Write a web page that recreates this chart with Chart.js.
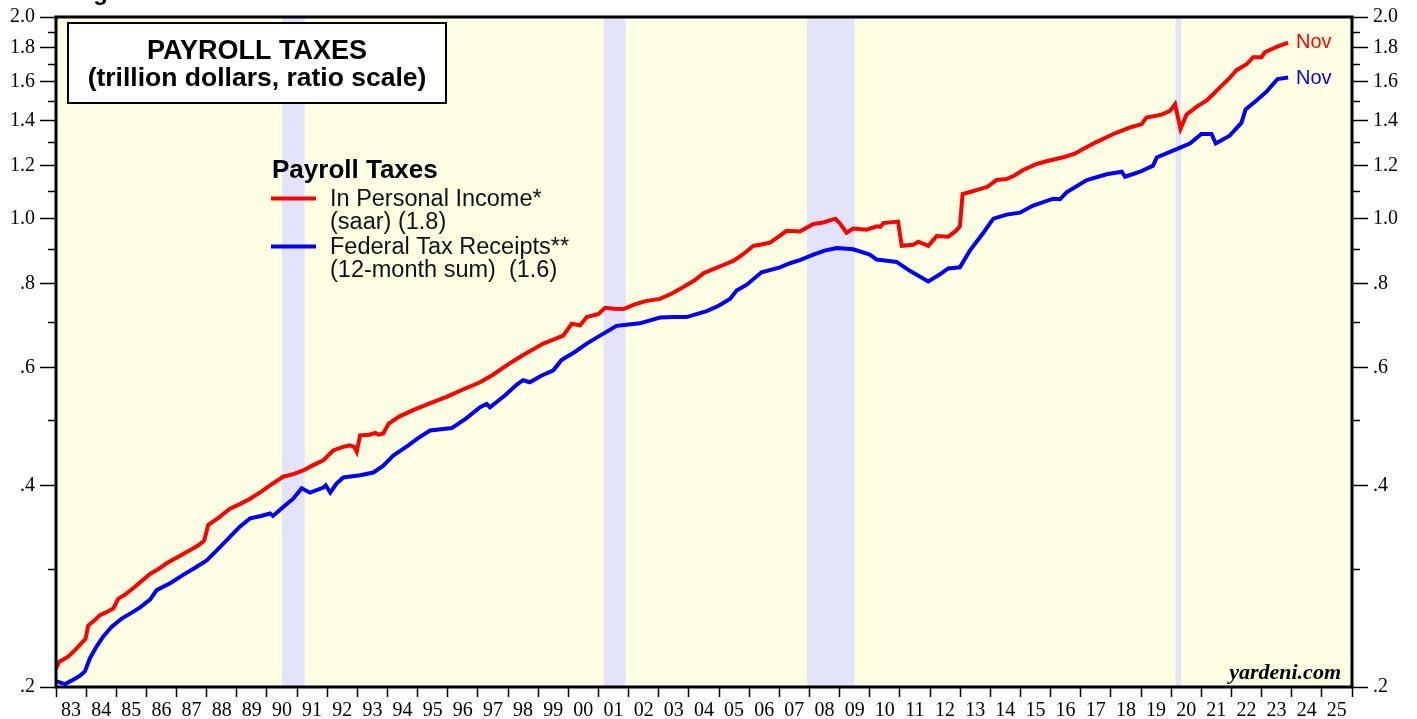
<!DOCTYPE html>
<html>
<head>
<meta charset="utf-8">
<script src="https://cdn.jsdelivr.net/npm/chart.js@4.4.0/dist/chart.umd.min.js"></script>
<style>
  html, body { margin: 0; padding: 0; background: #ffffff; }
  #wrap { position: relative; width: 1417px; height: 719px; }
</style>
</head>
<body>
<div id="wrap"><canvas id="c" width="1417" height="719"></canvas></div>
<script>
// ---------------- DATA ----------------
const incomeYears = [1983.0,1983.1,1983.4,1983.63,1983.9,1983.98,1984.07,1984.3,1984.46,1984.7,1984.9,1985.07,1985.3,1985.57,1985.85,1986.12,1986.4,1986.67,1986.95,1987.22,1987.5,1987.75,1987.92,1988.05,1988.4,1988.77,1989.1,1989.44,1989.8,1990.1,1990.54,1990.9,1991.2,1991.5,1991.87,1992.2,1992.5,1992.75,1992.9,1992.98,1993.09,1993.4,1993.6,1993.7,1993.86,1994.03,1994.4,1994.85,1995.4,1995.96,1996.5,1997.07,1997.5,1997.95,1998.5,1999.17,1999.5,1999.83,2000.11,2000.39,2000.61,2001.0,2001.22,2001.5,2001.83,2002.2,2002.6,2003.04,2003.4,2003.7,2004.2,2004.5,2004.81,2005.2,2005.47,2005.8,2006.14,2006.4,2006.69,2007.0,2007.24,2007.68,2008.13,2008.46,2008.85,2009.0,2009.23,2009.45,2009.9,2010.23,2010.35,2010.45,2010.94,2011.06,2011.44,2011.61,2011.94,2012.22,2012.6,2012.85,2012.99,2013.08,2013.3,2013.65,2013.9,2014.2,2014.54,2014.8,2015.09,2015.5,2015.86,2016.42,2016.8,2017.08,2017.5,2018.08,2018.63,2019.02,2019.18,2019.68,2019.96,2020.13,2020.31,2020.51,2020.85,2021.18,2021.4,2021.62,2021.9,2022.17,2022.5,2022.72,2023.0,2023.11,2023.5,2023.88];
const incomeValues = [0.213,0.218,0.222,0.227,0.234,0.236,0.247,0.252,0.256,0.259,0.262,0.271,0.275,0.281,0.288,0.295,0.300,0.306,0.311,0.316,0.321,0.326,0.331,0.349,0.358,0.369,0.375,0.382,0.391,0.400,0.412,0.416,0.421,0.428,0.436,0.451,0.456,0.459,0.456,0.449,0.475,0.476,0.479,0.476,0.478,0.494,0.507,0.518,0.530,0.542,0.556,0.570,0.585,0.604,0.626,0.651,0.660,0.669,0.697,0.693,0.713,0.721,0.736,0.734,0.733,0.745,0.754,0.759,0.772,0.785,0.810,0.830,0.841,0.855,0.865,0.885,0.911,0.915,0.921,0.942,0.959,0.957,0.982,0.987,1.000,0.985,0.953,0.967,0.963,0.974,0.972,0.985,0.990,0.911,0.914,0.924,0.911,0.942,0.940,0.958,0.974,1.088,1.095,1.107,1.115,1.142,1.146,1.160,1.182,1.205,1.218,1.235,1.250,1.271,1.300,1.338,1.368,1.384,1.416,1.430,1.448,1.482,1.361,1.430,1.470,1.502,1.535,1.570,1.615,1.666,1.700,1.742,1.742,1.772,1.805,1.831];

const receiptsYears = [1983.0,1983.3,1983.57,1983.8,1983.96,1984.13,1984.35,1984.57,1984.85,1985.18,1985.5,1985.79,1986.12,1986.34,1986.8,1987.22,1987.6,1988.0,1988.4,1988.77,1989.1,1989.44,1989.8,1990.1,1990.2,1990.5,1990.87,1991.15,1991.43,1991.87,1991.95,1992.1,1992.3,1992.53,1993.09,1993.53,1993.86,1994.19,1994.69,1995.0,1995.41,1996.13,1996.6,1997.07,1997.29,1997.4,1997.9,1998.3,1998.5,1998.72,1999.1,1999.5,1999.77,2000.2,2000.61,2001.05,2001.6,2002.0,2002.37,2003.04,2003.5,2003.92,2004.59,2005.0,2005.36,2005.58,2005.92,2006.41,2007.02,2007.35,2007.7,2008.13,2008.5,2008.9,2009.45,2010.0,2010.23,2010.5,2010.89,2011.33,2011.7,2011.94,2012.33,2012.6,2012.99,2013.32,2013.77,2014.1,2014.54,2014.98,2015.42,2016.09,2016.31,2016.53,2017.2,2017.86,2018.36,2018.47,2018.97,2019.4,2019.52,2020.18,2020.62,2021.0,2021.34,2021.48,2021.94,2022.33,2022.47,2022.82,2023.15,2023.53,2023.88];
const receiptsValues = [0.204,0.202,0.205,0.208,0.211,0.221,0.230,0.238,0.246,0.253,0.258,0.263,0.270,0.279,0.286,0.294,0.301,0.309,0.322,0.335,0.347,0.357,0.360,0.363,0.360,0.370,0.382,0.396,0.390,0.397,0.400,0.390,0.402,0.411,0.414,0.418,0.428,0.443,0.459,0.470,0.483,0.487,0.503,0.523,0.529,0.523,0.545,0.566,0.574,0.570,0.583,0.594,0.615,0.632,0.651,0.669,0.692,0.695,0.698,0.712,0.713,0.713,0.728,0.742,0.759,0.781,0.797,0.832,0.846,0.858,0.868,0.884,0.896,0.904,0.900,0.884,0.869,0.866,0.862,0.836,0.818,0.806,0.826,0.843,0.846,0.896,0.953,1.000,1.014,1.021,1.046,1.071,1.069,1.095,1.142,1.165,1.175,1.155,1.175,1.200,1.234,1.270,1.295,1.338,1.338,1.295,1.330,1.390,1.456,1.500,1.545,1.616,1.625];

const recessionStarts = [1990.5, 2001.17, 2007.92, 2020.15];
const recessionEnds   = [1991.25, 2001.9, 2009.5, 2020.33];

const yLabelValues = [0.2, 0.4, 0.6, 0.8, 1.0, 1.2, 1.4, 1.6, 1.8, 2.0];
const yLabelTexts  = ['.2', '.4', '.6', '.8', '1.0', '1.2', '1.4', '1.6', '1.8', '2.0'];
const yMinorValues = [0.3, 0.5, 0.7, 0.9, 1.1, 1.3, 1.5, 1.7, 1.9];
const yearLabels = ['83','84','85','86','87','88','89','90','91','92','93','94','95','96','97','98','99','00','01','02','03','04','05','06','07','08','09','10','11','12','13','14','15','16','17','18','19','20','21','22','23','24','25'];
const firstYear = 1983;
const lastYear = 2026;

// ---------------- HELPERS ----------------
const SANS = '"Liberation Sans", Arial, sans-serif';
const SERIF = '"Liberation Serif", "Times New Roman", serif';
const toPoints = (xs, ys) => xs.map((x, i) => ({ x: x, y: ys[i] }));

function yTickCallback(value) {
  const idx = yLabelValues.findIndex(v => Math.abs(v - value) < 1e-6);
  return idx >= 0 ? yLabelTexts[idx] : '';
}
function setYTicks(scale) {
  scale.ticks = yLabelValues.map(v => ({ value: v }));
}

const decorPlugin = {
  id: 'decor',
  beforeDatasetsDraw(chart) {
    const { ctx, chartArea: a, scales } = chart;
    const xs = scales.x;
    ctx.save();
    ctx.fillStyle = '#FFFFE3';
    ctx.fillRect(a.left, a.top, a.right - a.left, a.bottom - a.top);
    ctx.fillStyle = '#E3E3FC';
    recessionStarts.forEach((s, i) => {
      const x0 = xs.getPixelForValue(s);
      const x1 = xs.getPixelForValue(recessionEnds[i]);
      ctx.fillRect(x0, a.top, x1 - x0, a.bottom - a.top);
    });
    ctx.restore();
  },
  afterDatasetsDraw(chart) {
    const { ctx, chartArea: a, scales } = chart;
    ctx.save();
    // frame
    ctx.strokeStyle = '#000';
    ctx.lineWidth = 3;
    ctx.strokeRect(a.left, a.top, a.right - a.left, a.bottom - a.top);
    // minor y ticks both sides
    ctx.lineWidth = 1.5;
    yMinorValues.forEach(v => {
      const y = Math.round(scales.y.getPixelForValue(v)) + 0.5;
      ctx.beginPath();
      ctx.moveTo(a.left - 8, y); ctx.lineTo(a.left, y);
      ctx.moveTo(a.right, y); ctx.lineTo(a.right + 8, y);
      ctx.stroke();
    });
    // clipped figure caption at very top
    ctx.fillStyle = '#000';
    ctx.font = 'bold 24px ' + SANS;
    ctx.textAlign = 'left';
    ctx.textBaseline = 'alphabetic';
    ctx.fillText('Figure 1.', 72, 0);
    // title box
    ctx.fillStyle = '#fff';
    ctx.fillRect(68, 23, 378, 80);
    ctx.lineWidth = 2;
    ctx.strokeStyle = '#000';
    ctx.strokeRect(68, 23, 378, 80);
    ctx.fillStyle = '#000';
    ctx.textAlign = 'center';
    ctx.font = 'bold 27px ' + SANS;
    ctx.fillText('PAYROLL TAXES', 257, 59);
    ctx.font = 'bold 26.5px ' + SANS;
    ctx.fillText('(trillion dollars, ratio scale)', 257, 86);
    // legend
    ctx.textAlign = 'left';
    ctx.font = 'bold 26px ' + SANS;
    ctx.fillText('Payroll Taxes', 272, 178);
    ctx.lineWidth = 4;
    ctx.strokeStyle = '#FF0000';
    ctx.beginPath(); ctx.moveTo(271, 198.5); ctx.lineTo(316, 198.5); ctx.stroke();
    ctx.strokeStyle = '#0000FF';
    ctx.beginPath(); ctx.moveTo(271, 246.5); ctx.lineTo(316, 246.5); ctx.stroke();
    ctx.font = '23.5px ' + SANS;
    ctx.fillStyle = '#111';
    ctx.fillText('In Personal Income*', 330, 206);
    ctx.fillText('(saar) (1.8)', 330, 229);
    ctx.fillText('Federal Tax Receipts**', 330, 254);
    ctx.fillText('(12-month sum)  (1.6)', 330, 277);
    // end labels
    ctx.font = '20px ' + SANS;
    ctx.fillStyle = '#FF0000';
    ctx.fillText('Nov', 1296, 48);
    ctx.fillStyle = '#0000FF';
    ctx.fillText('Nov', 1296, 84);
    // source
    ctx.fillStyle = '#000';
    ctx.textAlign = 'right';
    ctx.font = 'italic bold 22px ' + SERIF;
    ctx.fillText('yardeni.com', 1341, 679);
    ctx.restore();
  }
};

const yAxisCommon = {
  type: 'logarithmic',
  min: 0.2,
  max: 2.0,
  afterBuildTicks: setYTicks,
  grid: { drawOnChartArea: false, drawTicks: true, tickLength: 16, tickWidth: 1.5, tickColor: '#000' },
  border: { display: false },
  ticks: {
    autoSkip: false,
    color: '#000',
    padding: 5,
    font: { family: SERIF, size: 20 },
    callback: yTickCallback
  }
};

new Chart(document.getElementById('c'), {
  type: 'line',
  data: {
    datasets: [
      {
        label: 'In Personal Income* (saar)',
        data: toPoints(incomeYears, incomeValues),
        borderColor: '#FF0000',
        borderWidth: 4,
        pointRadius: 0,
        tension: 0,
        fill: false
      },
      {
        label: 'Federal Tax Receipts** (12-month sum)',
        data: toPoints(receiptsYears, receiptsValues),
        borderColor: '#0000FF',
        borderWidth: 4,
        pointRadius: 0,
        tension: 0,
        fill: false
      }
    ]
  },
  options: {
    responsive: false,
    animation: false,
    devicePixelRatio: 1,
    layout: { padding: { top: 16, left: 0, right: 0, bottom: 0 } },
    plugins: { legend: { display: false }, tooltip: { enabled: false } },
    scales: {
      x: {
        type: 'linear',
        position: 'bottom',
        min: firstYear,
        max: lastYear,
        afterBuildTicks: (scale) => {
          const t = [];
          for (let yr = firstYear; yr <= lastYear; yr++) t.push({ value: yr });
          scale.ticks = t;
        },
        afterFit: (scale) => { scale.height = 32; },
        grid: { drawOnChartArea: false, drawTicks: true, tickLength: 10, tickWidth: 1.5, tickColor: '#000' },
        border: { display: false },
        ticks: {
          autoSkip: false,
          maxRotation: 0,
          minRotation: 0,
          color: '#000',
          padding: 2,
          labelOffset: 15,
          font: { family: SERIF, size: 20 },
          callback: (value) => {
            const i = Math.round(value) - firstYear;
            return (i >= 0 && i < yearLabels.length) ? yearLabels[i] : '';
          }
        }
      },
      y: Object.assign({}, yAxisCommon, {
        position: 'left',
        afterFit: (scale) => { scale.width = 56; }
      }),
      yRight: Object.assign({}, yAxisCommon, {
        position: 'right',
        afterFit: (scale) => { scale.width = 65; }
      })
    }
  },
  plugins: [decorPlugin]
});
</script>
</body>
</html>
